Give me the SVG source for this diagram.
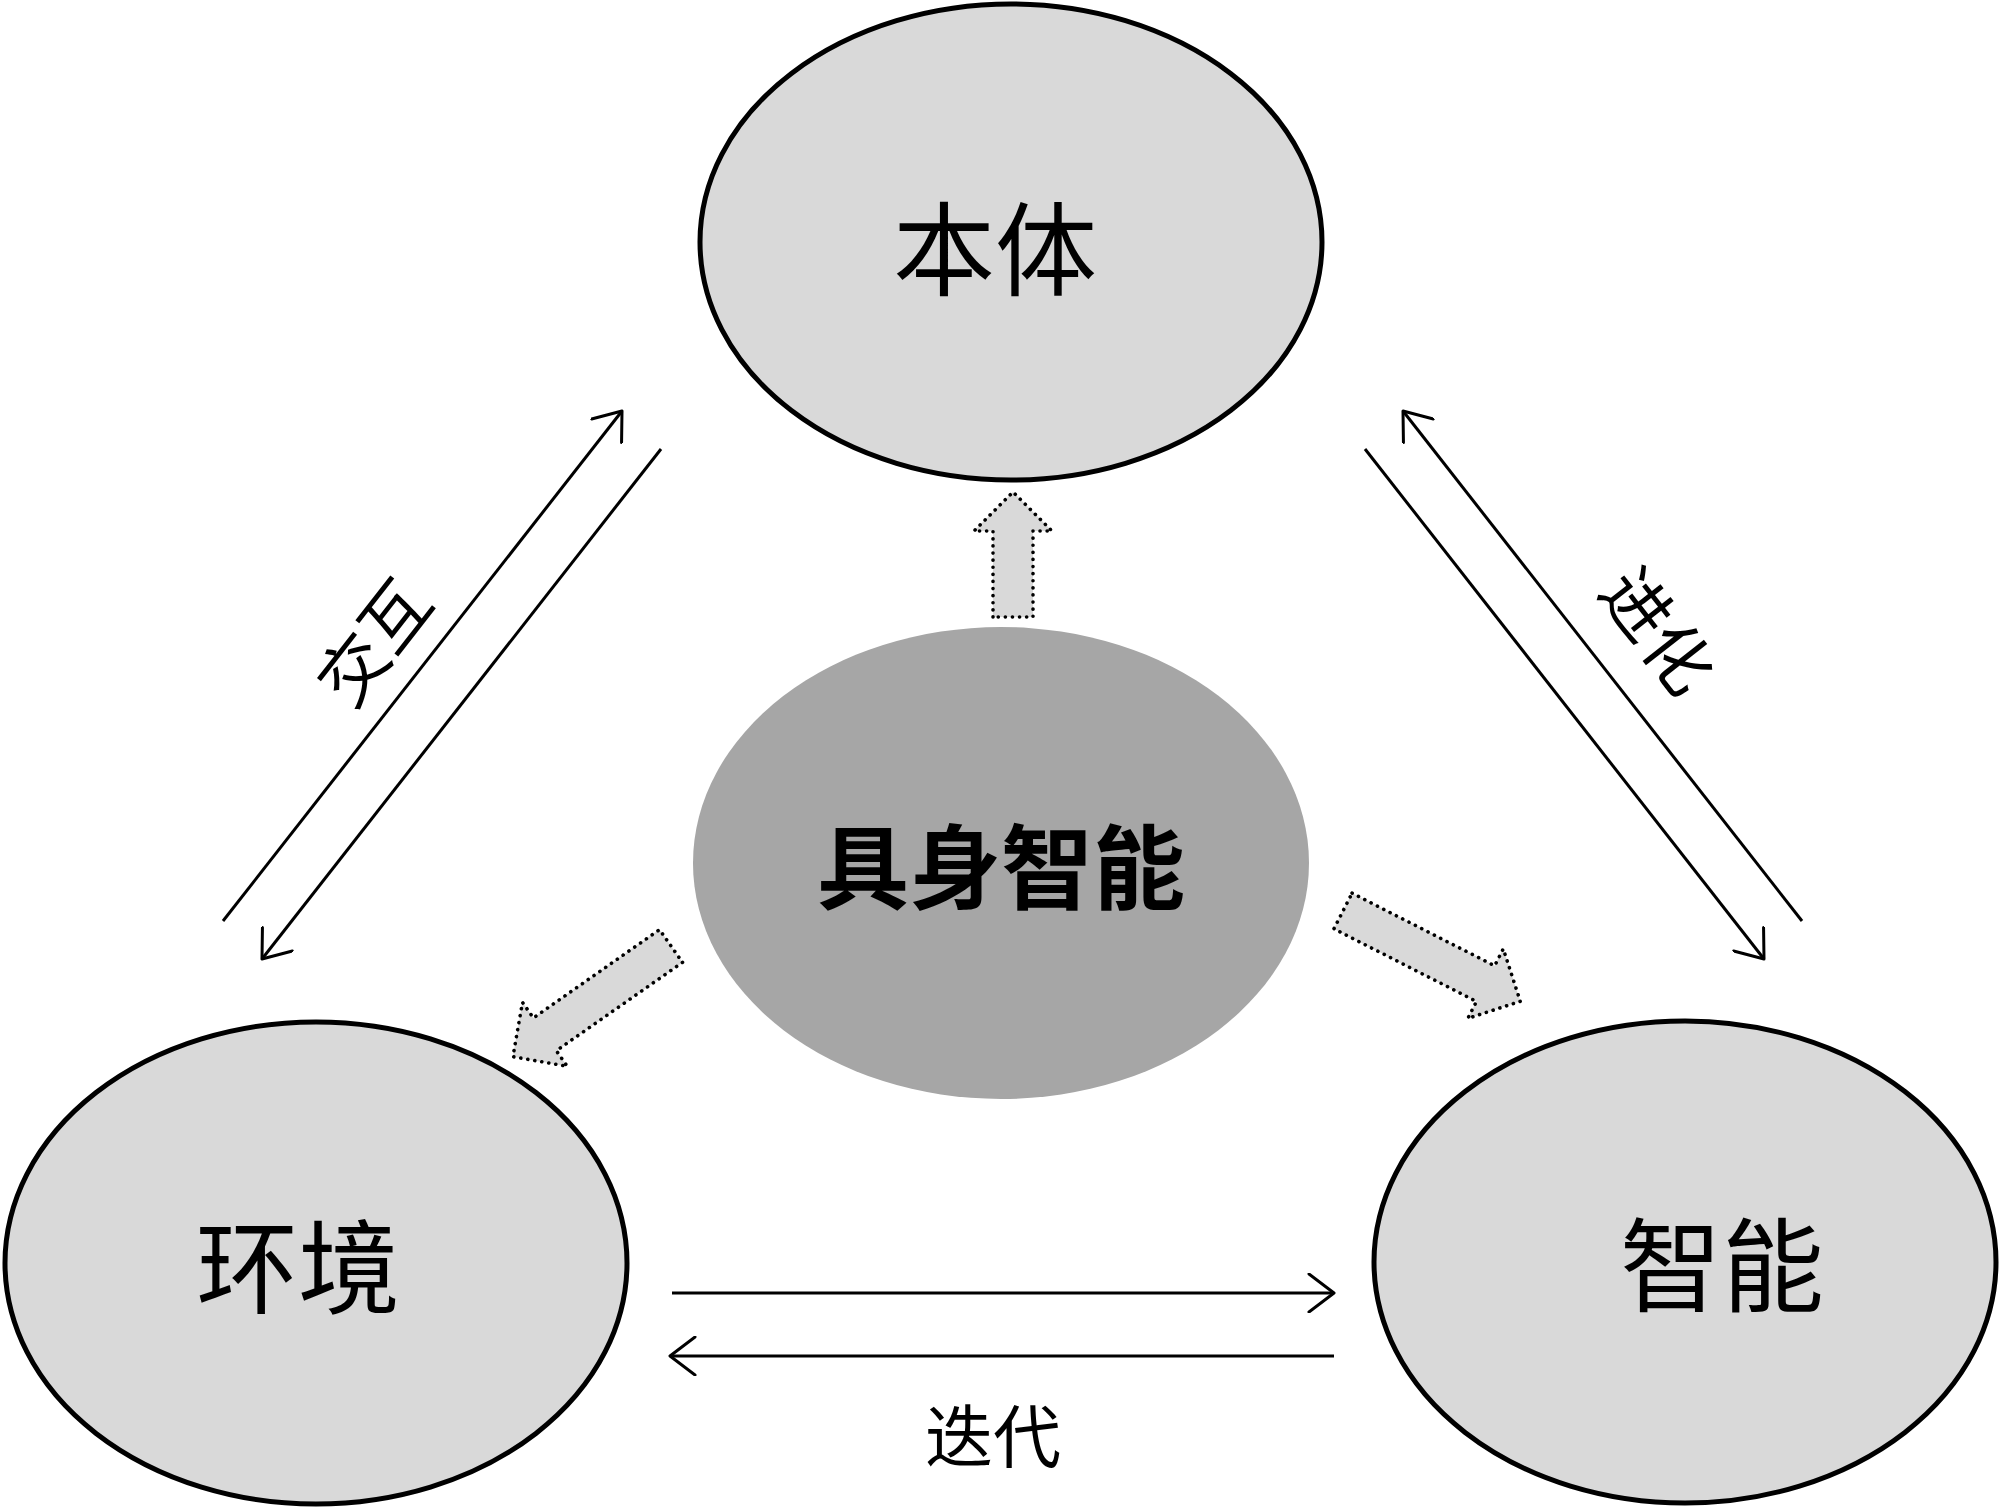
<svg xmlns="http://www.w3.org/2000/svg" width="2000" height="1508" viewBox="0 0 2000 1508">
<style>
.node{fill:#d9d9d9;stroke:#000;stroke-width:5}
.core{fill:#a6a6a6;stroke:none}
.lbl{font-family:"Noto Sans CJK SC","Noto Sans",sans-serif;fill:#000;text-anchor:middle}
.big{font-size:102px}
.bold{font-size:92px;font-weight:bold}
.small{font-size:68px}
.conn{stroke:#000;stroke-width:3;fill:none;marker-end:url(#chev)}
.block{fill:#d9d9d9;stroke:#000;stroke-width:3.6;stroke-linecap:round;stroke-linejoin:round;stroke-dasharray:0.1 7}
</style>
<defs>
<marker id="chev" markerUnits="userSpaceOnUse" markerWidth="40" markerHeight="40" viewBox="-30 -20 40 40" refX="0" refY="0" orient="auto">
<path d="M -25 -19 L 0 0 L -25 19" fill="none" stroke="#000" stroke-width="3" stroke-linecap="round" stroke-linejoin="round"/>
</marker>
</defs>
<g id="node-benti">
<ellipse class="node" cx="1011" cy="242" rx="311" ry="238"/>
<text class="lbl big" x="995" y="288">本体</text>
</g>
<g id="node-core">
<ellipse class="core" cx="1001" cy="863" rx="308" ry="236"/>
<text class="lbl bold" x="1001" y="902">具身智能</text>
</g>
<g id="node-huanjing">
<ellipse class="node" cx="316" cy="1263" rx="311" ry="241"/>
<text class="lbl big" x="298" y="1306">环境</text>
</g>
<g id="node-zhineng">
<ellipse class="node" cx="1685" cy="1262" rx="311" ry="241"/>
<text class="lbl big" x="1722" y="1304">智能</text>
</g>
<g id="connectors">
<line class="conn" x1="223" y1="921" x2="622" y2="411"/>
<line class="conn" x1="661" y1="449" x2="262" y2="959"/>
<line class="conn" x1="1802" y1="921" x2="1403" y2="411"/>
<line class="conn" x1="1365" y1="449" x2="1764" y2="959"/>
<line class="conn" x1="672" y1="1293" x2="1334" y2="1293"/>
<line class="conn" x1="1334" y1="1356" x2="670" y2="1356"/>
<path class="block" transform="translate(1013,617) rotate(-90)" d="M 0 -20 L 86 -20 L 86 -39 L 125 0 L 86 39 L 86 20 L 0 20 Z"/>
<path class="block" transform="translate(671,946) rotate(145)" d="M 0 -20 L 154 -20 L 154 -39 L 193 0 L 154 39 L 154 20 L 0 20 Z"/>
<path class="block" transform="translate(1343,911) rotate(27)" d="M 0 -20 L 160 -20 L 160 -39 L 199 0 L 160 39 L 160 20 L 0 20 Z"/>
</g>
<g id="labels">
<text class="lbl small" transform="translate(374,642) rotate(-52)" x="0" y="25">交互</text>
<text class="lbl small" transform="translate(1658,631) rotate(52)" x="0" y="25">进化</text>
<text class="lbl small" x="993" y="1462">迭代</text>
</g>
</svg>
